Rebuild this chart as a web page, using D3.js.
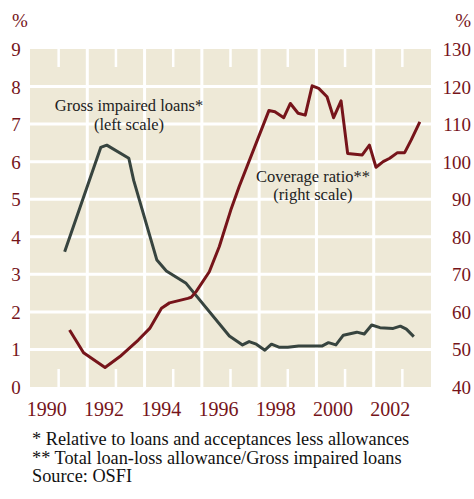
<!DOCTYPE html>
<html><head><meta charset="utf-8">
<script src="https://cdn.jsdelivr.net/npm/d3@7"></script>
<style>
html,body{margin:0;padding:0;background:#fff;}
svg{display:block;}
</style></head>
<body>
<svg id="chart" width="474" height="499"></svg>
<script>
// Gross impaired loans (% , left scale)
const gilYears = [1990.21,1991.47,1991.68,1992.45,1992.62,1993.43,1993.76,1994.45,1995.96,1996.42,1996.65,1996.9,1997.2,1997.43,1997.69,1998.0,1998.38,1999.19,1999.42,1999.68,1999.94,2000.41,2000.67,2000.93,2001.22,2001.68,2001.93,2002.14,2002.4];
const gilValues = [3.60,6.38,6.44,6.09,5.50,3.38,3.09,2.76,1.36,1.12,1.21,1.14,0.98,1.14,1.06,1.06,1.09,1.09,1.18,1.12,1.38,1.46,1.41,1.65,1.58,1.56,1.62,1.54,1.34];
// Coverage ratio (%, right scale)
const covYears = [1990.38,1990.87,1991.62,1992.14,1992.78,1993.18,1993.59,1993.87,1994.51,1994.63,1994.8,1995.26,1995.61,1996.01,1996.3,1997.34,1997.55,1997.86,1998.09,1998.36,1998.61,1998.85,1999.08,1999.37,1999.6,1999.86,2000.09,2000.6,2000.85,2001.08,2001.33,2001.56,2001.83,2002.08,2002.31,2002.61];
const covValues = [55.2,49.1,45.2,48.1,52.5,55.6,61.0,62.4,63.6,63.9,65.4,70.7,77.4,87.1,93.3,113.6,113.3,111.7,115.5,112.9,112.4,120.2,119.5,117.3,111.7,116.2,102.2,101.8,104.4,98.5,100.0,100.9,102.4,102.4,105.8,110.6];
const leftTicks = [0,1,2,3,4,5,6,7,8,9];
const rightTicks = [40,50,60,70,80,90,100,110,120,130];
const yearTicks = [1990,1992,1994,1996,1998,2000,2002];
const gridYears = [1991,1993,1995,1997,1999,2001];
const footnotes = ["* Relative to loans and acceptances less allowances","** Total loan-loss allowance/Gross impaired loans","Source: OSFI"];

const svg = d3.select("#chart");
const L = 30, R = 431, T = 49, B = 387;
const x = d3.scaleLinear().domain([1989, 2003]).range([L, R]);
const yL = d3.scaleLinear().domain([0, 9]).range([B, T]);
const yR = d3.scaleLinear().domain([40, 130]).range([B, T]);
const red = "#76141a", gray = "#37443f", bg = "#eee9d7";
const serif = "'Liberation Serif', 'Times New Roman', serif";

svg.append("rect").attr("x", L).attr("y", T).attr("width", R - L).attr("height", B - T).attr("fill", bg);

// gridlines
svg.append("g").selectAll("line").data(leftTicks.slice(1, -1)).join("line")
  .attr("x1", L).attr("x2", R).attr("y1", d => yL(d)).attr("y2", d => yL(d))
  .attr("stroke", "#fff").attr("stroke-width", 3);
svg.append("g").selectAll("line").data(gridYears).join("line")
  .attr("x1", d => x(d)).attr("x2", d => x(d)).attr("y1", T).attr("y2", B)
  .attr("stroke", "#fff").attr("stroke-width", 3);
// tick marks at even years
const tg = svg.append("g");
tg.selectAll("line.t").data(yearTicks).join("line").attr("class", "t")
  .attr("x1", d => x(d)).attr("x2", d => x(d)).attr("y1", T).attr("y2", T + 18)
  .attr("stroke", "#fff").attr("stroke-width", 2.5);
tg.selectAll("line.b").data(yearTicks).join("line").attr("class", "b")
  .attr("x1", d => x(d)).attr("x2", d => x(d)).attr("y1", B - 18).attr("y2", B)
  .attr("stroke", "#fff").attr("stroke-width", 2.5);

// axes labels
svg.append("g").selectAll("text").data(leftTicks).join("text")
  .attr("x", 16).attr("y", d => yL(d) + 7).attr("text-anchor", "middle")
  .attr("font-family", serif).attr("font-size", 19).attr("fill", red).text(d => d);
svg.append("g").selectAll("text").data(rightTicks).join("text")
  .attr("x", 471).attr("y", d => yR(d) + 7).attr("text-anchor", "end")
  .attr("font-family", serif).attr("font-size", 19).attr("fill", red).text(d => d);
svg.append("text").attr("x", 20).attr("y", 27).attr("text-anchor", "middle")
  .attr("font-family", serif).attr("font-size", 19).attr("fill", red).text("%");
svg.append("text").attr("x", 471).attr("y", 27).attr("text-anchor", "end")
  .attr("font-family", serif).attr("font-size", 19).attr("fill", red).text("%");
svg.append("g").selectAll("text").data(yearTicks).join("text")
  .attr("x", d => x(d) - 12).attr("y", 416).attr("text-anchor", "middle")
  .attr("font-family", serif).attr("font-size", 20).attr("fill", red).text(d => d);

// lines
const gil = gilYears.map((d, i) => [d, gilValues[i]]);
const cov = covYears.map((d, i) => [d, covValues[i]]);
svg.append("path").datum(gil)
  .attr("d", d3.line().x(d => x(d[0])).y(d => yL(d[1])))
  .attr("fill", "none").attr("stroke", gray).attr("stroke-width", 3).attr("stroke-linejoin", "round");
svg.append("path").datum(cov)
  .attr("d", d3.line().x(d => x(d[0])).y(d => yR(d[1])))
  .attr("fill", "none").attr("stroke", red).attr("stroke-width", 3).attr("stroke-linejoin", "round");

// annotations
const ann = [["Gross impaired loans*", 129, 111], ["(left scale)", 129, 130], ["Coverage ratio**", 313, 182], ["(right scale)", 313, 200]];
svg.append("g").selectAll("text").data(ann).join("text")
  .attr("x", d => d[1]).attr("y", d => d[2]).attr("text-anchor", "middle")
  .attr("font-family", serif).attr("font-size", 16.5).attr("fill", "#222").text(d => d[0]);

// footnotes
svg.append("g").selectAll("text").data(footnotes).join("text")
  .attr("x", 32).attr("y", (d, i) => 445 + i * 18.5)
  .attr("font-family", serif).attr("font-size", 18.3).attr("fill", "#111").text(d => d);
</script>
</body></html>
